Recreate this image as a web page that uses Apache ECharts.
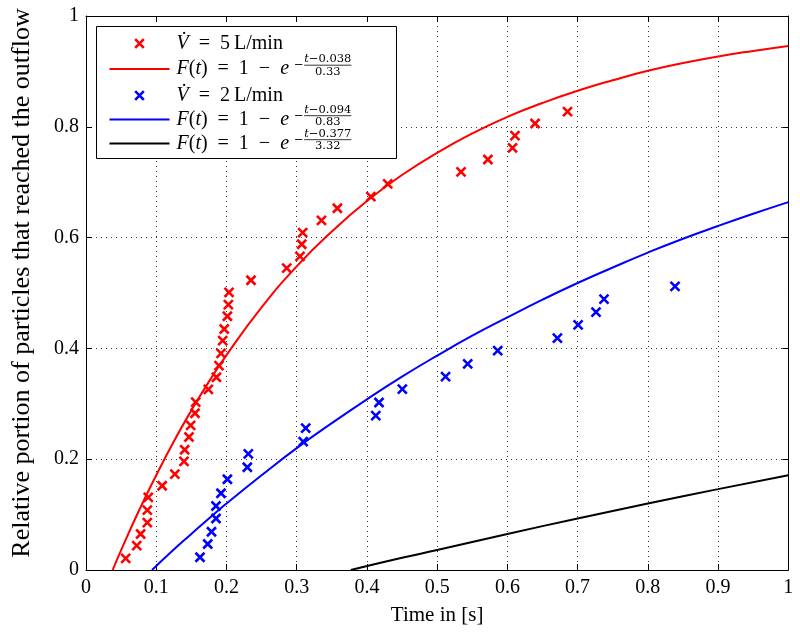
<!DOCTYPE html>
<html><head><meta charset="utf-8">
<script src="https://cdn.jsdelivr.net/npm/echarts@6/dist/echarts.min.js"></script>
<style>html,body{margin:0;padding:0;background:#fff}#c{width:800px;height:637px}</style>
</head><body><div id="c"></div>
<script>
// ---------------- data ----------------
const xTickLabels = ['0','0.1','0.2','0.3','0.4','0.5','0.6','0.7','0.8','0.9','1'];
const yTickLabels = ['0','0.2','0.4','0.6','0.8','1'];

// measured: V = 5 L/min
const red5T = [0.0565,0.0722,0.0778,0.0873,0.0873,0.0887,0.1084,0.1265,0.1395,0.1405,0.1466,0.149,0.1552,0.1562,0.1742,0.1857,0.1894,0.1922,0.1946,0.1968,0.2013,0.2027,0.2036,0.2349,0.2858,0.3047,0.3072,0.3085,0.3353,0.3579,0.4056,0.4296,0.534,0.5722,0.6073,0.6108,0.6394,0.6856];
const red5F = [0.021,0.044,0.065,0.0855,0.108,0.131,0.152,0.173,0.196,0.217,0.240,0.261,0.283,0.303,0.326,0.348,0.369,0.391,0.414,0.435,0.458,0.479,0.501,0.523,0.545,0.566,0.588,0.609,0.631,0.653,0.674,0.697,0.7185,0.741,0.762,0.784,0.806,0.8275];

// measured: V = 2 L/min
const blue2T = [0.1623,0.1733,0.1787,0.1851,0.1851,0.1922,0.2013,0.2297,0.2311,0.3092,0.3128,0.4126,0.4172,0.4504,0.512,0.5435,0.5862,0.6712,0.7007,0.7262,0.7376,0.8387];
const blue2F = [0.023,0.047,0.069,0.093,0.1156,0.1386,0.1638,0.1855,0.2096,0.2318,0.256,0.2788,0.3023,0.3264,0.349,0.372,0.396,0.4186,0.4426,0.4656,0.489,0.512];

// fitted curves, values
const fit5T = [0.038,0.05,0.075,0.1,0.125,0.15,0.175,0.2,0.25,0.3,0.35,0.4,0.45,0.5,0.55,0.6,0.65,0.7,0.75,0.8,0.85,0.9,0.95,1.0];
const fit5F = [0,0.036,0.106,0.171,0.232,0.288,0.340,0.388,0.474,0.548,0.611,0.666,0.713,0.753,0.788,0.818,0.843,0.865,0.884,0.901,0.915,0.927,0.937,0.946];
const fit2T = [0.094,0.125,0.15,0.175,0.2,0.25,0.3,0.35,0.4,0.45,0.5,0.55,0.6,0.65,0.7,0.75,0.8,0.85,0.9,0.95,1.0];
const fit2F = [0,0.037,0.065,0.093,0.120,0.171,0.220,0.265,0.308,0.349,0.387,0.423,0.456,0.488,0.518,0.546,0.573,0.598,0.621,0.643,0.664];
const fitSlowT = [0.377,0.45,0.5,0.6,0.7,0.8,0.9,1.0];
const fitSlowF = [0,0.022,0.036,0.065,0.093,0.120,0.146,0.171];

// legend texts
const legendFlow = ['5', '2'];
const legendNum = ['t\u22120.038', 't\u22120.094', 't\u22120.377'];
const legendDen = ['0.33', '0.83', '3.32'];

// ---------------- helpers ----------------
const FAM = 'Liberation Serif';
const SFAM = 'DejaVu Serif';
const zip = (a, b) => a.map((v, i) => [v, b[i]]);
const mctx = document.createElement('canvas').getContext('2d');
function tw(text, italic, size, fam) {
  mctx.font = (italic ? 'italic ' : '') + size + 'px ' + fam;
  return mctx.measureText(text).width;
}
const RED = '#ff0000', BLUE = '#0000ff', BLACK = '#000000';
const LF = 20;     // legend main font size
const SF = 11.5;   // exponent font size

function richStyles(size, fam) {
  return {
    i: {fontStyle: 'italic', fontSize: size, fontFamily: fam, fill: '#000'},
    r: {fontSize: size, fontFamily: fam, fill: '#000'}
  };
}

function markerEls(cx, cy, color) {
  const h = 4.3;
  return [
    {type: 'line', shape: {x1: cx - h, y1: cy - h, x2: cx + h, y2: cy + h}, style: {stroke: color, lineWidth: 2.6}, z: 101},
    {type: 'line', shape: {x1: cx - h, y1: cy + h, x2: cx + h, y2: cy - h}, style: {stroke: color, lineWidth: 2.6}, z: 101}
  ];
}
function lineIcon(x1, x2, y, color) {
  return {type: 'line', shape: {x1: x1, y1: y, x2: x2, y2: y}, style: {stroke: color, lineWidth: 2}, z: 101};
}
function flowText(x, yc, flow) {
  return {type: 'text', x: x, y: yc, z: 101,
    style: {text: '{i|V\u0307}{r|\u2002=\u2002' + flow + '\u2009L/min}', rich: richStyles(LF, FAM),
      fontSize: LF, fontFamily: FAM, fill: '#000', align: 'left', verticalAlign: 'middle'}};
}
function formulaEls(x, yc, num, den) {
  const parts = [['F', 1], ['(', 0], ['t', 1], [')\u2002=\u20021\u2002\u2212\u2002', 0], ['e', 1]];
  let w = 0;
  parts.forEach(p => { w += tw(p[0], p[1], LF, FAM); });
  const els = [];
  els.push({type: 'text', x: x, y: yc, z: 101,
    style: {text: '{i|F}{r|(}{i|t}{r|)\u2002=\u20021\u2002\u2212\u2002}{i|e}', rich: richStyles(LF, FAM),
      fontSize: LF, fontFamily: FAM, fill: '#000', align: 'left', verticalAlign: 'middle'}});
  const ex = x + w + 5;
  els.push({type: 'text', x: ex, y: yc - 3.8, z: 101,
    style: {text: '\u2212', fontSize: SF, fontFamily: SFAM, fill: '#000', align: 'left', verticalAlign: 'middle'}});
  const fx = ex + tw('\u2212', 0, SF, SFAM) + 0.5;
  const nw = tw('t', 1, SF, SFAM) + tw(num.slice(1), 0, SF, SFAM);
  els.push({type: 'text', x: fx, y: yc - 9.5, z: 101,
    style: {text: '{i|t}{r|' + num.slice(1) + '}', rich: richStyles(SF, SFAM),
      fontSize: SF, fontFamily: SFAM, fill: '#000', align: 'left', verticalAlign: 'middle'}});
  els.push({type: 'line', shape: {x1: fx, y1: yc - 3.8, x2: fx + nw, y2: yc - 3.8}, style: {stroke: '#000', lineWidth: 0.8}, z: 101});
  els.push({type: 'text', x: fx + nw / 2, y: yc + 2.8, z: 101,
    style: {text: den, fontSize: SF, fontFamily: SFAM, fill: '#000', align: 'center', verticalAlign: 'middle'}});
  return els;
}

// ---------------- legend graphic ----------------
const LX = 96.5, LY = 26.5, LW = 300, LH = 132;
const iconX1 = 109.5, iconX2 = 169.5, iconCx = 139.5, textX = 176.5;
const rowY = [43.5, 69, 95.5, 119.5, 143.5];
let legendEls = [{type: 'rect', shape: {x: LX, y: LY, width: LW, height: LH}, style: {fill: '#fff', stroke: '#000', lineWidth: 1}, z: 100}];
legendEls = legendEls.concat(markerEls(iconCx, rowY[0], RED), [flowText(textX, rowY[0], legendFlow[0])]);
legendEls = legendEls.concat([lineIcon(iconX1, iconX2, rowY[1], RED)], formulaEls(textX, rowY[1], legendNum[0], legendDen[0]));
legendEls = legendEls.concat(markerEls(iconCx, rowY[2], BLUE), [flowText(textX, rowY[2], legendFlow[1])]);
legendEls = legendEls.concat([lineIcon(iconX1, iconX2, rowY[3], BLUE)], formulaEls(textX, rowY[3], legendNum[1], legendDen[1]));
legendEls = legendEls.concat([lineIcon(iconX1, iconX2, rowY[4], BLACK)], formulaEls(textX, rowY[4], legendNum[2], legendDen[2]));

// ---------------- chart ----------------
const crossSym = 'path://M0,0L10,10M10,0L0,10';
const axisCommon = {
  type: 'value', min: 0, max: 1,
  axisLine: {show: true, onZero: false, lineStyle: {color: '#000', width: 1}},
  axisTick: {show: true, inside: true, length: 6, lineStyle: {color: '#000', width: 1}}
};
const chart = echarts.init(document.getElementById('c'), null, {renderer: 'canvas'});
chart.setOption({
  animation: false,
  backgroundColor: '#fff',
  grid: {left: 86, right: 11.7, top: 16, bottom: 67, show: false, containLabel: false},
  xAxis: [
    Object.assign({}, axisCommon, {
      position: 'bottom', interval: 0.1,
      axisLabel: {show: true, margin: 8, color: '#000', fontFamily: FAM, fontSize: 20,
        formatter: v => xTickLabels[Math.round(v * 10)]},
      splitLine: {show: true, lineStyle: {type: [1, 4], color: '#333', width: 1}},
      name: 'Time in [s]', nameLocation: 'middle', nameGap: 35,
      nameTextStyle: {color: '#000', fontFamily: FAM, fontSize: 21}
    }),
    Object.assign({}, axisCommon, {
      position: 'top', interval: 0.1,
      axisLabel: {show: false}, splitLine: {show: false}
    })
  ],
  yAxis: [
    Object.assign({}, axisCommon, {
      position: 'left', interval: 0.2,
      axisLabel: {show: true, margin: 7, color: '#000', fontFamily: FAM, fontSize: 20,
        formatter: v => yTickLabels[Math.round(v * 5)]},
      splitLine: {show: true, lineStyle: {type: [1, 4], color: '#333', width: 1}},
      name: 'Relative portion of particles that reached the outflow', nameLocation: 'middle', nameGap: 51,
      nameTextStyle: {color: '#000', fontFamily: FAM, fontSize: 26, padding: [0, 0, 0, 20]}
    }),
    Object.assign({}, axisCommon, {
      position: 'right', interval: 0.2,
      axisLabel: {show: false}, splitLine: {show: false}
    })
  ],
  series: [
    {name: 'V5', type: 'scatter', data: zip(red5T, red5F), symbol: crossSym, symbolSize: 9,
      itemStyle: {color: 'rgba(0,0,0,0)', borderColor: RED, borderWidth: 2.6, opacity: 1}, emphasis: {disabled: true}, z: 5},
    {name: 'F5', type: 'line', data: zip(fit5T, fit5F), showSymbol: false, smooth: true,
      lineStyle: {color: RED, width: 2}, emphasis: {disabled: true}, z: 4},
    {name: 'V2', type: 'scatter', data: zip(blue2T, blue2F), symbol: crossSym, symbolSize: 9,
      itemStyle: {color: 'rgba(0,0,0,0)', borderColor: BLUE, borderWidth: 2.6, opacity: 1}, emphasis: {disabled: true}, z: 5},
    {name: 'F2', type: 'line', data: zip(fit2T, fit2F), showSymbol: false, smooth: true,
      lineStyle: {color: BLUE, width: 2}, emphasis: {disabled: true}, z: 4},
    {name: 'F3', type: 'line', data: zip(fitSlowT, fitSlowF), showSymbol: false, smooth: true,
      lineStyle: {color: BLACK, width: 2}, emphasis: {disabled: true}, z: 4}
  ],
  graphic: legendEls
});
</script></body></html>
